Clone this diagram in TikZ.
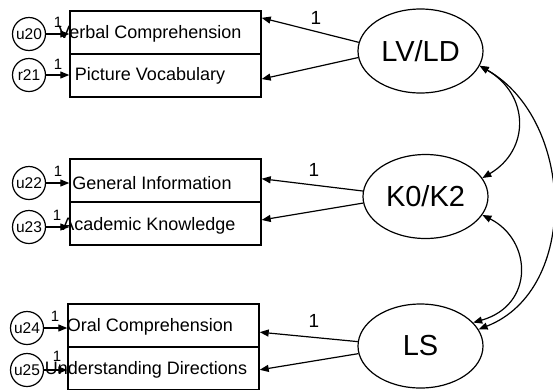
\documentclass[tikz,border=0pt]{standalone}
\usepackage{fontspec}
\setmainfont{Liberation Sans}
\usetikzlibrary{arrows.meta,calc,shapes.geometric}
\begin{document}
\begin{tikzpicture}[x=1pt,y=-1pt,
  line width=1.2pt,
  tip/.style={-{Triangle[length=9pt,width=7pt]}},
  both/.style={{Triangle[length=9pt,width=7pt]}-{Triangle[length=9pt,width=7pt]}},
  obs/.style={draw,rectangle,line width=1.4pt,minimum width=191pt,minimum height=43pt,inner sep=0pt},
  obstext/.style={inner sep=0pt,font=\fontsize{18}{20}\selectfont},
  err/.style={draw,circle,minimum size=33pt,inner sep=0pt,font=\fontsize{15.5}{17}\selectfont},
  lat/.style={draw,ellipse,minimum width=125pt,minimum height=84pt,inner sep=0pt,font=\fontsize{29}{32}\selectfont},
  one/.style={inner sep=0pt,font=\fontsize{15}{17}\selectfont},
  bigone/.style={inner sep=0pt,font=\fontsize{19}{21}\selectfont}
]
\clip (0,0) rectangle (553,389);
\fill[white] (0,0) rectangle (553,389);

% observed boxes
\node[obs] (b1) at (165.5,32.5) {};
\node[obs] (b2) at (165.5,75.5) {};
\node[obs] (b3) at (165.5,180.5) {};
\node[obs] (b4) at (165.5,223.5) {};
\node[obs] (b5) at (163.5,325.5) {};
\node[obs] (b6) at (163.5,368.5) {};

% errors
\node[err] (e1) at (29,34) {u20};
\node[err] (e2) at (29,75) {r21};
\node[err] (e3) at (29,183) {u22};
\node[err] (e4) at (29,227) {u23};
\node[err] (e5) at (27,328) {u24};
\node[err] (e6) at (27,370) {u25};

% error arrows
\foreach \e/\b in {e1/b1,e2/b2,e3/b3,e4/b4,e5/b5,e6/b6}
  \draw[tip] (\e.east) -- (\e.east -| \b.west);

% texts
\node[obstext] (t1) at (150,34) {Verbal Comprehension};
\node[obstext] (t2) at (150,76) {Picture Vocabulary};
\node[obstext] (t3) at (152,183) {General Information};
\node[obstext] (t4) at (149,226) {Academic Knowledge};
\node[obstext] (t5) at (150,327) {Oral Comprehension};
\node[obstext] (t6) at (146,370) {Understanding Directions};

% small 1 labels
\node[one] (o1) at (58,22) {1};
\node[one] (o2) at (58,64) {1};
\node[one] (o3) at (58,171) {1};
\node[one] (o4) at (57,215) {1};
\node[one] (o5) at (55,316) {1};
\node[one] (o6) at (57,356) {1};

% latent
\node[lat] (lv) at (420.5,51) {LV/LD};
\node[lat] (ko) at (425.5,196.5) {K0/K2};
\node[lat] (ls) at (420.5,346) {LS};

% loadings
\draw[tip] (lv.172) -- ($(b1.north east)!0.17!(b1.south east)$);
\draw[tip] (lv.186) -- ($(b2.north east)!0.58!(b2.south east)$);
\draw[tip] (ko.175) -- ($(b3.north east)!0.46!(b3.south east)$);
\draw[tip] (ko.186) -- ($(b4.north east)!0.42!(b4.south east)$);
\draw[tip] (ls.176) -- ($(b5.north east)!0.65!(b5.south east)$);
\draw[tip] (ls.187) -- ($(b6.north east)!0.53!(b6.south east)$);

\node[bigone] (l1) at (316,18) {1};
\node[bigone] (l2) at (314,170) {1};
\node[bigone] (l3) at (314,321) {1};

% covariances
\draw[both] (lv.-14) .. controls (530,95) and (530,150) .. (ko.18);
\draw[both] (ko.-18) .. controls (532,240) and (535,305) .. (ls.24);
\draw[both] (lv.-14) .. controls (575,120) and (580,290) .. (ls.16);
\end{tikzpicture}
\end{document}
